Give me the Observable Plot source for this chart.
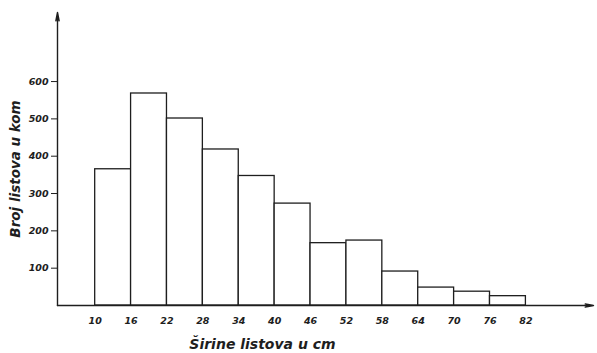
<!DOCTYPE html>
<html>
<head>
<meta charset="utf-8">
<script src="https://cdn.jsdelivr.net/npm/d3@7"></script>
<script src="https://cdn.jsdelivr.net/npm/@observablehq/plot@0.6"></script>
<style>
  html, body { margin: 0; padding: 0; background: #fff; }
  svg { font-family: "DejaVu Sans", sans-serif; font-style: italic; }
</style>
</head>
<body>
<div id="chart"></div>
<script>
// Class boundaries (leaf width in cm)
const binStarts = [10, 16, 22, 28, 34, 40, 46, 52, 58, 64, 70, 76];
const binEnds   = [16, 22, 28, 34, 40, 46, 52, 58, 64, 70, 76, 82];
// Number of leaves (kom)
const counts    = [365, 568, 501, 418, 347, 273, 167, 174, 91, 48, 37, 25];
// Tick labels
const xTicks = [10, 16, 22, 28, 34, 40, 46, 52, 58, 64, 70, 76, 82];
const yTicks = [100, 200, 300, 400, 500, 600];
const xLabel = "Širine listova u cm";
const yLabel = "Broj listova u kom";

const xMin = 3.7, xMax = 93.3, yMax = 785;

const bins = binStarts.map((s, i) => ({x1: s, x2: binEnds[i], y: counts[i]}));
const ink = "#1e1e1e";

const chart = Plot.plot({
  width: 597,
  height: 353,
  marginLeft: 57,
  marginRight: 4,
  marginTop: 12,
  marginBottom: 48,
  style: {background: "#fff", color: ink, fontSize: "9.5px"},
  x: {domain: [xMin, xMax]},
  y: {domain: [0, yMax]},
  marks: [
    Plot.rectY(bins, {x1: "x1", x2: "x2", y: "y", fill: "#fff", stroke: ink, strokeWidth: 1.3}),
    Plot.arrow([{x1: xMin, x2: xMin, y1: 0, y2: yMax}], {x1: "x1", x2: "x2", y1: "y1", y2: "y2", stroke: ink, strokeWidth: 1.4, headLength: 9, headAngle: 22}),
    Plot.arrow([{x1: xMin, x2: xMax, y1: 0, y2: 0}], {x1: "x1", x2: "x2", y1: "y1", y2: "y2", stroke: ink, strokeWidth: 1.4, headLength: 9, headAngle: 22}),
    Plot.axisY({ticks: yTicks, tickSize: 6, tickPadding: 3, label: null, fontSize: 9.5, fontWeight: 600}),
    Plot.axisX({ticks: xTicks, tickSize: 0, tickPadding: 12, label: null, tickFormat: d => String(d), fontSize: 9.5, fontWeight: 600}),
    Plot.text([yLabel], {text: d => d, frameAnchor: "left", textAnchor: "middle", rotate: -90, dx: -42, dy: 10, fontSize: 13.5, fontWeight: 600, fill: ink}),
    Plot.text([xLabel], {text: d => d, frameAnchor: "bottom-left", textAnchor: "middle", dx: 205, dy: 43, fontSize: 14, fontWeight: 600, fill: ink})
  ]
});
document.getElementById("chart").append(chart);
</script>
</body>
</html>
